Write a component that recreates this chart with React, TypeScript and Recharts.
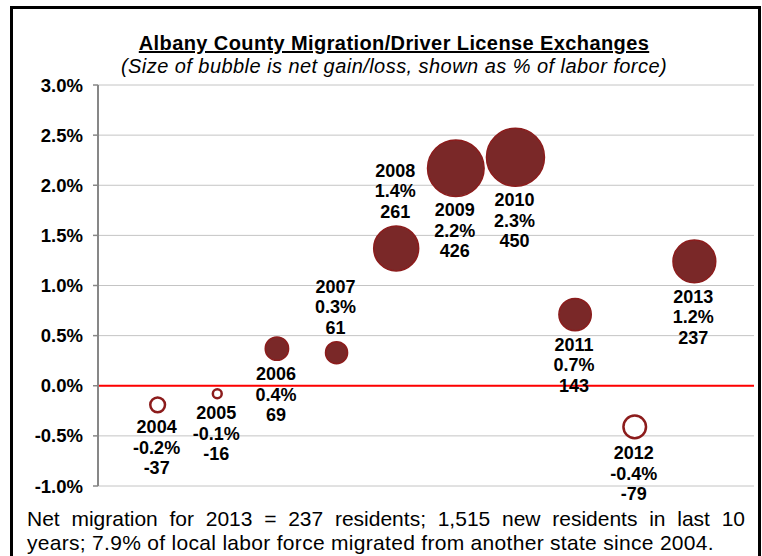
import React from 'react'
import {
  ScatterChart,
  Scatter,
  XAxis,
  YAxis,
  ZAxis,
  CartesianGrid,
  ReferenceLine,
} from 'recharts'

// values
const years = ['2004', '2005', '2006', '2007', '2008', '2009', '2010', '2011', '2012', '2013']
const sharePct = [-0.19, -0.08, 0.37, 0.33, 1.37, 2.17, 2.28, 0.71, -0.41, 1.24]
const shareLabels = ['-0.2%', '-0.1%', '0.4%', '0.3%', '1.4%', '2.2%', '2.3%', '0.7%', '-0.4%', '1.2%']
const netMigration = [-37, -16, 69, 61, 261, 426, 450, 143, -79, 237]
const yTicks = [-1, -0.5, 0, 0.5, 1, 1.5, 2, 2.5, 3]

// labels that sit above their bubble instead of below
const labelsAbove = ['2007', '2008']

const FONT = '"Liberation Sans", Arial, sans-serif'
const DARK_RED = '#7a2828'
const EDGE_RED = '#8c1c1c'

const data = years.map((year, i) => ({
  idx: i + 1,
  pct: sharePct[i],
  size: Math.abs(sharePct[i]),
  year,
  label: shareLabels[i],
  net: netMigration[i],
}))

const Bubble = (props: any) => {
  const { cx, cy, width, payload } = props
  const r = width / 2
  const hollow = payload.pct < 0
  const above = labelsAbove.includes(payload.year)
  const lines = [payload.year, payload.label, String(payload.net)]
  const firstY = above ? cy - r - 14 - 41 : cy + r + 14
  return (
    <g>
      <circle
        cx={cx}
        cy={cy}
        r={hollow ? r - 1 : r}
        fill={hollow ? '#ffffff' : DARK_RED}
        stroke={EDGE_RED}
        strokeWidth={hollow ? 2.5 : 1.5}
      />
      {lines.map((t, k) => (
        <text
          key={k}
          x={cx - 1}
          y={firstY + k * 20.5}
          textAnchor="middle"
          dominantBaseline="central"
          fontFamily={FONT}
          fontWeight="bold"
          fontSize={18}
          fill="#000"
        >
          {t}
        </text>
      ))}
    </g>
  )
}

export default function App() {
  return (
    <div
      style={{
        position: 'absolute',
        left: 0,
        top: 0,
        width: 762,
        height: 556,
        overflow: 'hidden',
        background: '#fff',
        fontFamily: FONT,
      }}
    >
      {/* frame */}
      <div
        style={{
          position: 'absolute',
          left: 10,
          top: 6,
          width: 745,
          height: 600,
          border: '3px solid #000',
        }}
      />

      <div
        style={{
          position: 'absolute',
          left: 0,
          width: 788,
          top: 30,
          textAlign: 'center',
          fontWeight: 'bold',
          fontSize: 20,
          letterSpacing: 0.4,
          textDecoration: 'underline',
          lineHeight: '26px',
        }}
      >
        Albany County Migration/Driver License Exchanges
      </div>
      <div
        style={{
          position: 'absolute',
          left: 0,
          width: 788,
          top: 53,
          textAlign: 'center',
          fontStyle: 'italic',
          fontSize: 20,
          letterSpacing: 0.45,
          lineHeight: '26px',
        }}
      >
        (Size of bubble is net gain/loss, shown as % of labor force)
      </div>

      <div style={{ position: 'absolute', left: 0, top: 0 }}>
        <ScatterChart width={762} height={520} margin={{ top: 85, right: 8, bottom: 34, left: 0 }}>
          <CartesianGrid horizontal vertical={false} stroke="#c4c4c4" strokeWidth={1} />
          <XAxis type="number" dataKey="idx" domain={[0, 11]} hide />
          <YAxis
            type="number"
            dataKey="pct"
            domain={[-1, 3]}
            ticks={yTicks}
            width={98}
            tickFormatter={(v: number) => `${v.toFixed(1)}%`}
            tick={{ fill: '#000', fontSize: 18.5, fontWeight: 'bold', fontFamily: FONT }}
            axisLine={{ stroke: '#878787', strokeWidth: 2 }}
            tickLine={{ stroke: '#878787', strokeWidth: 1.5 }}
            tickSize={5}
            tickMargin={10}
          />
          <ZAxis type="number" dataKey="size" domain={[0, 2.28]} range={[0, Math.PI * 29 * 29]} />
          <ReferenceLine y={0} stroke="#ff0000" strokeWidth={2} ifOverflow="extendDomain" />
          <Scatter data={data} shape={<Bubble />} isAnimationActive={false} />
        </ScatterChart>
      </div>

      <div
        style={{
          position: 'absolute',
          left: 27,
          width: 718,
          top: 507,
          fontSize: 21,
          lineHeight: '24px',
          color: '#000',
        }}
      >
        <div style={{ textAlign: 'justify', textAlignLast: 'justify' }}>
          Net migration for 2013 = 237 residents; 1,515 new residents in last 10
        </div>
        <div style={{ letterSpacing: 0.3 }}>
          years; 7.9% of local labor force migrated from another state since 2004.
        </div>
      </div>
    </div>
  )
}
